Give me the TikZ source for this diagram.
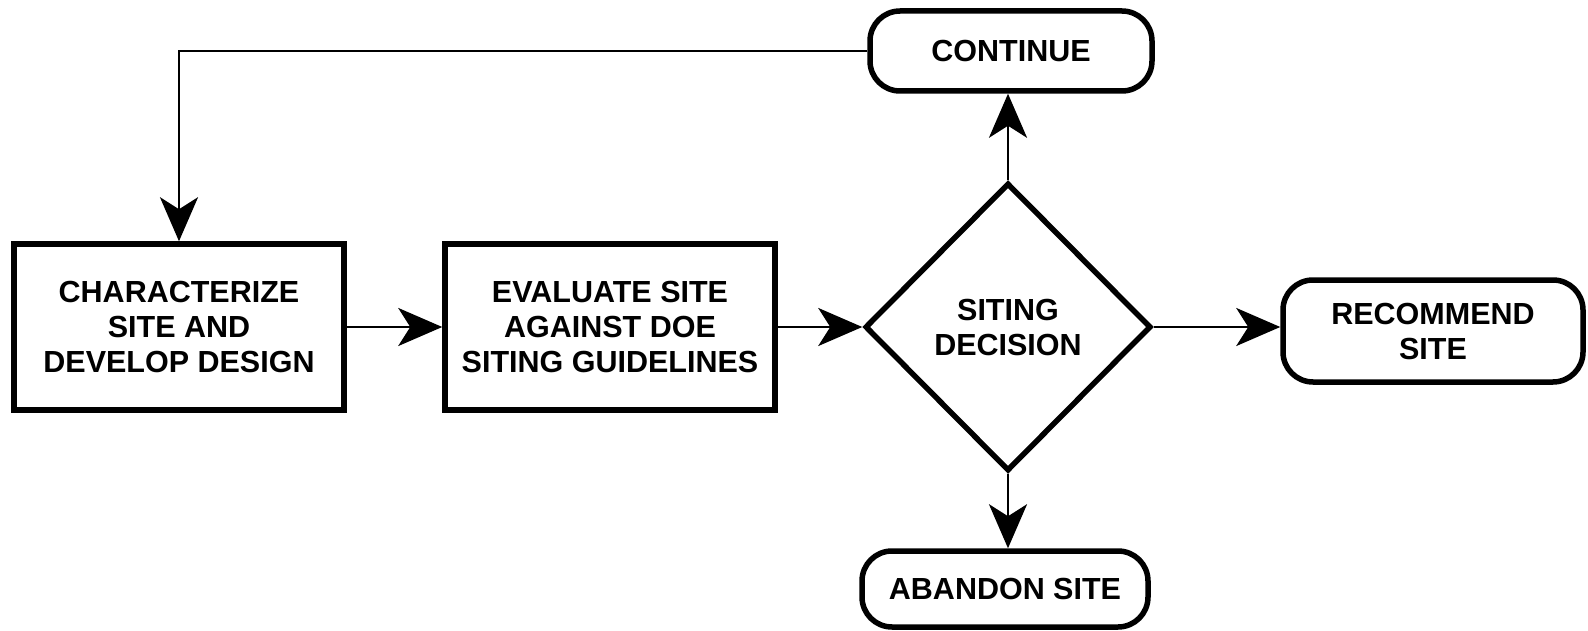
\documentclass[tikz,border=0pt]{standalone}
\usepackage{fontspec}
\setmainfont{Liberation Sans}
\usetikzlibrary{shapes.geometric,arrows.meta}
\begin{document}
\begin{tikzpicture}[x=1pt,y=-1pt,
  every node/.style={font=\fontsize{30.5}{35}\selectfont\bfseries, align=center, inner sep=0pt},
  procbox/.style={draw, line width=5.5pt, rectangle, minimum width=330pt, minimum height=166pt},
  termbox/.style={draw, line width=5.5pt, rectangle, rounded corners=30pt},
  decbox/.style={draw, line width=5.5pt, diamond, minimum width=286pt, minimum height=288pt, aspect=1},
  conn/.style={line width=2.8pt, -{Stealth[length=44pt, width=38pt, inset=12pt]}}
]
\useasboundingbox (0,0) rectangle (1588,631);
\node[procbox] (char) at (179,327) {CHARACTERIZE\\SITE AND\\DEVELOP DESIGN};
\node[procbox] (eval) at (610,327) {EVALUATE SITE\\AGAINST DOE\\SITING GUIDELINES};
\node[decbox] (dec) at (1008,327) {SITING\\DECISION};
\node[termbox, minimum width=282pt, minimum height=80pt] (cont) at (1011,51) {CONTINUE};
\node[termbox, minimum width=300pt, minimum height=102pt] (rec) at (1433,331) {RECOMMEND\\SITE};
\node[termbox, minimum width=286pt, minimum height=76pt] (aban) at (1005,589) {ABANDON SITE};
\draw[conn] (char.east) -- (eval.west);
\draw[conn] (eval.east) -- (dec.west);
\draw[conn] (dec.east) -- (rec.west |- dec.east);
\draw[conn] (dec.north) -- (dec.north |- cont.south);
\draw[conn] (dec.south) -- (dec.south |- aban.north);
\draw[conn] (cont.west) -| (char.north);
\end{tikzpicture}
\end{document}
